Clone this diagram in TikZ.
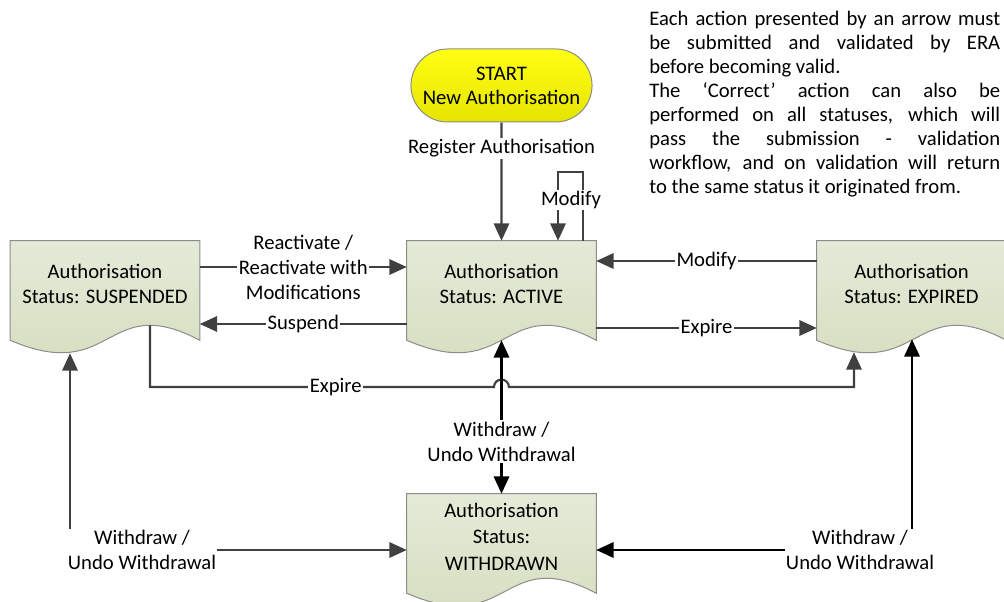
\documentclass[tikz,border=0pt]{standalone}
\usepackage{fontspec}
\setmainfont{Carlito}
\usepackage{tikz}
\usetikzlibrary{arrows.meta, backgrounds, calc, shapes.misc}
\tikzset{>={Triangle[length=13pt,width=11.5pt]}}

\definecolor{docTop}{RGB}{229,234,216}
\definecolor{docBot}{RGB}{212,220,188}
\definecolor{docLine}{RGB}{140,140,140}
\definecolor{arrGray}{RGB}{64,64,64}
\definecolor{startTop}{RGB}{255,255,20}
\definecolor{startBot}{RGB}{228,228,0}

\tikzset{
  status/.style={minimum width=141.75pt, minimum height=63.75pt, inner sep=0pt, align=center, font=\fontsize{15.5}{18.75}\selectfont},
  start/.style={rounded rectangle, draw=docLine, line width=0.75pt, top color=startTop, bottom color=startBot, minimum width=142.5pt, minimum height=54.75pt, align=center, font=\fontsize{15.5}{18}\selectfont},
  conn/.style={draw=arrGray, line width=1.6pt},
  blk/.style={draw=black, line width=1.7pt},
  lbl/.style={fill=white, inner sep=1pt, align=center, font=\fontsize{15.5}{18.75}\selectfont, text=black},
}

\begin{document}
\begin{tikzpicture}[x=0.75pt, y=-0.75pt]
\useasboundingbox (0,0) rectangle (1004,602);

% note in the corner
\node[anchor=north west, inner sep=0pt, text width=263.25pt, align=justify, font=\fontsize{15.5}{18}\selectfont] (note) at (649,11)
  {\hyphenpenalty=10000 Each action presented by an arrow must\linebreak be submitted and validated by ERA\linebreak before becoming valid.\par
   The `Correct' action can also be\linebreak performed on all statuses, which will\linebreak pass the submission - validation\linebreak workflow, and on validation will return\linebreak to the same status it originated from.};

% statuses
\node[start] (start) at (501.5,85.5) {START\\New Authorisation};
\node[status] (susp) at (105,283.5) {Authorisation\\Status: SUSPENDED};
\node[status] (act) at (501.5,283.5) {Authorisation\\Status: ACTIVE};
\node[status] (exp) at (911.5,283.5) {Authorisation\\Status: EXPIRED};
\node[status, font=\fontsize{15.5}{20}\selectfont] (wd) at (501.5,536.5) {Authorisation\\Status:\\WITHDRAWN};

% document outlines
\begin{scope}[on background layer]
\foreach \n in {susp, act, exp, wd}{
  \draw[draw=docLine, line width=0.75pt, top color=docTop, bottom color=docBot]
    (\n.north west) -- (\n.north east) -- ($(\n.south east)+(0,14)$)
    .. controls ($(\n.south)+(0,-36)$) and ($(\n.south)+(9.5,59)$) .. ($(\n.south west)+(0,14)$) -- cycle;
}
\end{scope}

% points on the waves
\coordinate (susp-tr) at ($(susp.south)+(-35,27)$);
\coordinate (susp-cr) at ($(susp.south)+(45,-1)$);
\coordinate (act-md) at ($(act.south)+(0,14)$);
\coordinate (exp-tr) at ($(exp.south)+(-57.5,26)$);
\coordinate (exp-md) at ($(exp.south)+(0.5,13)$);

% register
\draw[conn, ->] (start) -- node[lbl, pos=0.22] {Register Authorisation} (act);

% modify loop on active
\draw[conn, ->] (act.north -| 583,0) -- ++(0,-69) -| (act.north -| 558,0);
\node[lbl] (modl) at (571,200) {Modify};

% between suspended and active
\draw[conn, ->] (susp.east |- 0,267) -- node[lbl] {Reactivate /\\Reactivate with\\Modifications} (act.west |- 0,267);
\draw[conn, ->] (act.west |- 0,324) -- node[lbl] {Suspend} (susp.east |- 0,324);

% between expired and active
\draw[conn, ->] (exp.west |- 0,261) -- node[lbl] {Modify} (act.east |- 0,261);
\draw[conn, ->] (act.east |- 0,328) -- node[lbl] {Expire} (exp.west |- 0,328);

% suspended to expired, hop over the withdraw line
\draw[conn, ->] (susp-cr) -- (susp-cr |- 0,387) -- node[lbl, pos=0.54] {Expire} ($(act-md |- 0,387)+(-7.5,0)$)
  arc[start angle=180, end angle=0, radius=5.6pt] -- (exp-tr |- 0,387) -- (exp-tr);

% withdraw
\draw[conn, blk, <->] (act-md) -- node[lbl, pos=0.66] {Withdraw /\\Undo Withdrawal} (wd.north);
\draw[conn, <->] (susp-tr) |- (wd.west |- 0,550);
\node[lbl] (wdl) at (142,550) {Withdraw /\\Undo Withdrawal};
\draw[conn, blk, <->] (exp-md) |- (wd.east |- 0,550);
\node[lbl] (wdr) at (860,550) {Withdraw /\\Undo Withdrawal};

\end{tikzpicture}
\end{document}
